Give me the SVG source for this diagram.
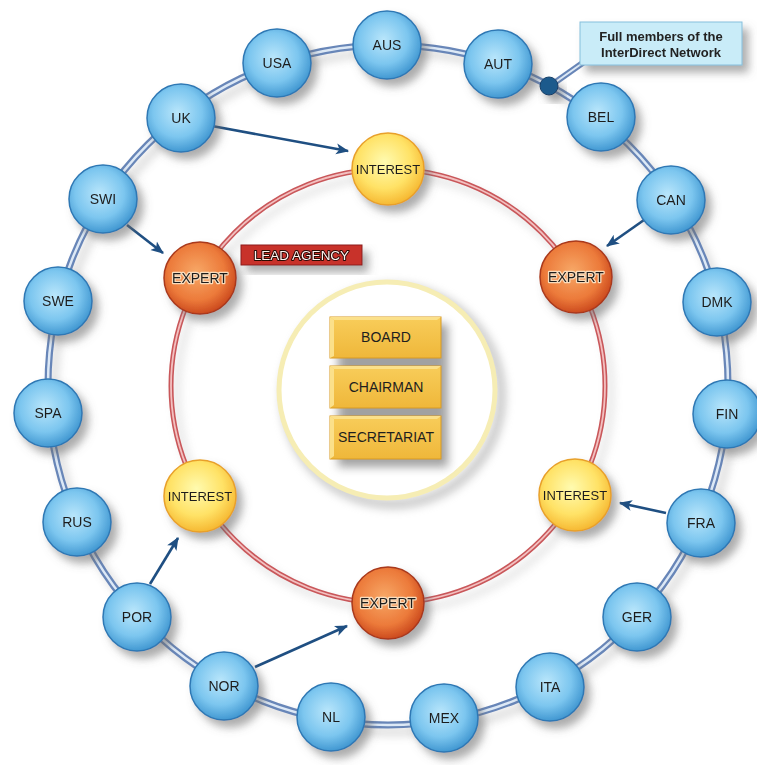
<svg xmlns="http://www.w3.org/2000/svg" width="757" height="765" viewBox="0 0 757 765">
  <defs>
    <filter id="shadow" x="-40%" y="-40%" width="190%" height="190%">
      <feGaussianBlur in="SourceAlpha" stdDeviation="4" result="b"/>
      <feOffset in="b" dx="6" dy="7" result="o"/>
      <feFlood flood-color="#6a6a6a" flood-opacity="0.55"/>
      <feComposite in2="o" operator="in" result="s"/>
      <feMerge><feMergeNode in="s"/><feMergeNode in="SourceGraphic"/></feMerge>
    </filter>
    <filter id="haze" x="-30%" y="-30%" width="160%" height="160%">
      <feGaussianBlur stdDeviation="5"/>
    </filter>
    <radialGradient id="gBlue" cx="45%" cy="42%" r="60%">
      <stop offset="0" stop-color="#b9e6fb"/>
      <stop offset="0.6" stop-color="#7cc6ef"/>
      <stop offset="1" stop-color="#3d94cf"/>
    </radialGradient>
    <radialGradient id="gOrange" cx="45%" cy="42%" r="60%">
      <stop offset="0" stop-color="#f7a867"/>
      <stop offset="0.65" stop-color="#ec7a3a"/>
      <stop offset="1" stop-color="#c9461c"/>
    </radialGradient>
    <radialGradient id="gYellow" cx="45%" cy="40%" r="62%">
      <stop offset="0" stop-color="#fffbb0"/>
      <stop offset="0.6" stop-color="#ffe266"/>
      <stop offset="1" stop-color="#f5b52e"/>
    </radialGradient>
    <linearGradient id="gGold" x1="0" y1="0" x2="0" y2="1">
      <stop offset="0" stop-color="#f8cd5a"/>
      <stop offset="1" stop-color="#efb73a"/>
    </linearGradient>
    <marker id="arrow" viewBox="0 0 12 10" refX="11" refY="5" markerWidth="5" markerHeight="4.5" orient="auto" markerUnits="strokeWidth">
      <path d="M0,0 L12,5 L0,10 L3,5 Z" fill="#1f4f82"/>
    </marker>
    <style>
      .lbl { font-family: "Liberation Sans", "DejaVu Sans", sans-serif; font-size: 14px; fill: #1e1e1e; text-anchor: middle; dominant-baseline: central; }
      .int { font-size: 13px; }
      .blue { fill: url(#gBlue); stroke: #2f78b4; stroke-width: 1.5; }
      .orange { fill: url(#gOrange); stroke: #a9391a; stroke-width: 1.5; }
      .yellow { fill: url(#gYellow); stroke: #e8a02a; stroke-width: 1.5; }
      .ext { stroke: #f9dcbc; stroke-width: 2.5; paint-order: stroke; stroke-linejoin: round; }
      .ringOut { fill: none; stroke: #6886b8; stroke-width: 7; }
      .ringIn { fill: none; stroke: #dde9f6; stroke-width: 2.5; }
      .redOut { fill: none; stroke: #c9575a; stroke-width: 5; }
      .redIn { fill: none; stroke: #f3c0c0; stroke-width: 1.8; }
      .arr { stroke: #1f4f82; stroke-width: 2.6; fill: none; marker-end: url(#arrow); }
      .box { fill: url(#gGold); stroke: #d99a22; stroke-width: 1; }
      .hi { fill: #fbe08a; }
      .boxTxt { font-family: "Liberation Sans", "DejaVu Sans", sans-serif; font-size: 14px; fill: #1e1e1e; text-anchor: middle; dominant-baseline: central; }
      .leg { font-family: "Liberation Sans", "DejaVu Sans", sans-serif; font-size: 13px; font-weight: bold; fill: #222; text-anchor: middle; dominant-baseline: central; }
    </style>
  </defs>

  <rect width="757" height="765" fill="#ffffff"/>

  <!-- soft shadows under the rings -->
  <circle cx="394" cy="392" r="340" fill="none" stroke="#9a9a9a" stroke-width="6" opacity="0.45" filter="url(#haze)"/>
  <circle cx="394" cy="393" r="217" fill="none" stroke="#9a9a9a" stroke-width="5" opacity="0.35" filter="url(#haze)"/>

  <!-- outer member ring -->
  <g id="outer-ring">
    <circle class="ringOut" cx="388" cy="385" r="340"/>
    <circle class="ringIn" cx="388" cy="385" r="340"/>
  </g>

  <!-- inner ring -->
  <g id="inner-ring">
    <circle class="redOut" cx="388" cy="386" r="217"/>
    <circle class="redIn" cx="388" cy="386" r="217"/>
  </g>

  <!-- central hub -->
  <g id="hub">
    <circle cx="393" cy="396" r="108" fill="none" stroke="#8a8a8a" stroke-width="9" opacity="0.5" filter="url(#haze)"/>
    <circle cx="387" cy="390" r="108" fill="#ffffff" stroke="#f6edb4" stroke-width="5"/>
    <rect x="338" y="324" width="110" height="143" fill="#7a7a7a" opacity="0.7" filter="url(#haze)"/>
    <g id="board">
      <rect class="box" x="330" y="317" width="111" height="41"/>
      <path class="hi" d="M330,317 L441,317 L437,320 L334,320 Z"/>
      <path class="hi" d="M330,317 L334,320 L334,356 L330,358 Z"/>
      <text class="boxTxt" x="386" y="337">BOARD</text>
    </g>
    <g id="chairman">
      <rect class="box" x="330" y="366" width="111" height="42"/>
      <path class="hi" d="M330,366 L441,366 L437,369 L334,369 Z"/>
      <path class="hi" d="M330,366 L334,369 L334,405 L330,408 Z"/>
      <text class="boxTxt" x="386" y="387">CHAIRMAN</text>
    </g>
    <g id="secretariat">
      <rect class="box" x="330" y="416" width="111" height="43"/>
      <path class="hi" d="M330,416 L441,416 L437,419 L334,419 Z"/>
      <path class="hi" d="M330,416 L334,419 L334,456 L330,459 Z"/>
      <text class="boxTxt" x="386" y="437">SECRETARIAT</text>
    </g>
  </g>

  <!-- connectors -->
  <g id="connectors">
    <line class="arr" x1="212" y1="126" x2="348" y2="151"/>
    <line class="arr" x1="127" y1="225" x2="163" y2="253"/>
    <line class="arr" x1="644" y1="220" x2="607" y2="246"/>
    <line class="arr" x1="666" y1="513" x2="620" y2="503"/>
    <line class="arr" x1="150" y1="584" x2="178" y2="538"/>
    <line class="arr" x1="255" y1="667" x2="347" y2="626"/>
    <!-- legend leader -->
    <line x1="550" y1="86" x2="584" y2="62" stroke="#6886b8" stroke-width="6"/>
    <line x1="550" y1="86" x2="584" y2="62" stroke="#dde9f6" stroke-width="2"/>
  </g>

  <!-- inner ring nodes -->
  <g id="interest-top" filter="url(#shadow)">
    <circle class="yellow" cx="388" cy="169" r="36"/>
    <text class="lbl int" x="388" y="169">INTEREST</text>
  </g>
  <g id="expert-left" filter="url(#shadow)">
    <circle class="orange" cx="200" cy="278" r="36"/>
    <text class="lbl ext" x="200" y="278">EXPERT</text>
  </g>
  <g id="expert-right" filter="url(#shadow)">
    <circle class="orange" cx="576" cy="277" r="36"/>
    <text class="lbl ext" x="576" y="277">EXPERT</text>
  </g>
  <g id="interest-left" filter="url(#shadow)">
    <circle class="yellow" cx="200" cy="496" r="36"/>
    <text class="lbl int" x="200" y="496">INTEREST</text>
  </g>
  <g id="interest-right" filter="url(#shadow)">
    <circle class="yellow" cx="575" cy="495" r="36"/>
    <text class="lbl int" x="575" y="495">INTEREST</text>
  </g>
  <g id="expert-bottom" filter="url(#shadow)">
    <circle class="orange" cx="388" cy="603" r="36"/>
    <text class="lbl ext" x="388" y="603">EXPERT</text>
  </g>

  <!-- lead agency tag -->
  <g id="lead-agency" filter="url(#shadow)">
    <rect x="241" y="245" width="121" height="20" fill="#c8302a" stroke="#8e1c18" stroke-width="1"/>
    <text x="301.5" y="255.5" font-family="Liberation Sans, DejaVu Sans, sans-serif" font-size="13.5" fill="#fff4f0" stroke="#2a0806" stroke-width="2" stroke-linejoin="round" paint-order="stroke" text-anchor="middle" dominant-baseline="central">LEAD AGENCY</text>
  </g>

  <!-- member nodes -->
  <g id="usa" filter="url(#shadow)"><circle class="blue" cx="277" cy="63" r="34"/><text class="lbl" x="277" y="63">USA</text></g>
  <g id="aus" filter="url(#shadow)"><circle class="blue" cx="387" cy="45" r="34"/><text class="lbl" x="387" y="45">AUS</text></g>
  <g id="aut" filter="url(#shadow)"><circle class="blue" cx="498" cy="64" r="34"/><text class="lbl" x="498" y="64">AUT</text></g>
  <g id="bel" filter="url(#shadow)"><circle class="blue" cx="601" cy="117" r="34"/><text class="lbl" x="601" y="117">BEL</text></g>
  <g id="can" filter="url(#shadow)"><circle class="blue" cx="671" cy="200" r="34"/><text class="lbl" x="671" y="200">CAN</text></g>
  <g id="dmk" filter="url(#shadow)"><circle class="blue" cx="717" cy="302" r="34"/><text class="lbl" x="717" y="302">DMK</text></g>
  <g id="fin" filter="url(#shadow)"><circle class="blue" cx="727" cy="414" r="34"/><text class="lbl" x="727" y="414">FIN</text></g>
  <g id="fra" filter="url(#shadow)"><circle class="blue" cx="701" cy="523" r="34"/><text class="lbl" x="701" y="523">FRA</text></g>
  <g id="ger" filter="url(#shadow)"><circle class="blue" cx="637" cy="617" r="34"/><text class="lbl" x="637" y="617">GER</text></g>
  <g id="ita" filter="url(#shadow)"><circle class="blue" cx="550" cy="687" r="34"/><text class="lbl" x="550" y="687">ITA</text></g>
  <g id="mex" filter="url(#shadow)"><circle class="blue" cx="444" cy="718" r="34"/><text class="lbl" x="444" y="718">MEX</text></g>
  <g id="nl" filter="url(#shadow)"><circle class="blue" cx="331" cy="717" r="34"/><text class="lbl" x="331" y="717">NL</text></g>
  <g id="nor" filter="url(#shadow)"><circle class="blue" cx="224" cy="686" r="34"/><text class="lbl" x="224" y="686">NOR</text></g>
  <g id="por" filter="url(#shadow)"><circle class="blue" cx="137" cy="617" r="34"/><text class="lbl" x="137" y="617">POR</text></g>
  <g id="rus" filter="url(#shadow)"><circle class="blue" cx="77" cy="522" r="34"/><text class="lbl" x="77" y="522">RUS</text></g>
  <g id="spa" filter="url(#shadow)"><circle class="blue" cx="48" cy="413" r="34"/><text class="lbl" x="48" y="413">SPA</text></g>
  <g id="swe" filter="url(#shadow)"><circle class="blue" cx="58" cy="301" r="34"/><text class="lbl" x="58" y="301">SWE</text></g>
  <g id="swi" filter="url(#shadow)"><circle class="blue" cx="103" cy="199" r="34"/><text class="lbl" x="103" y="199">SWI</text></g>
  <g id="uk" filter="url(#shadow)"><circle class="blue" cx="181" cy="118" r="34"/><text class="lbl" x="181" y="118">UK</text></g>

  <!-- legend -->
  <g id="legend-dot" filter="url(#shadow)">
    <circle cx="549" cy="86" r="9" fill="#1f5a8c" stroke="#133e66" stroke-width="1"/>
  </g>
  <g id="legend" filter="url(#shadow)">
    <rect x="580" y="22" width="162" height="43" fill="#c9ecf8" stroke="#86bfdc" stroke-width="1"/>
    <text class="leg" x="661" y="36">Full members of the</text>
    <text class="leg" x="661" y="52">InterDirect Network</text>
  </g>
</svg>
